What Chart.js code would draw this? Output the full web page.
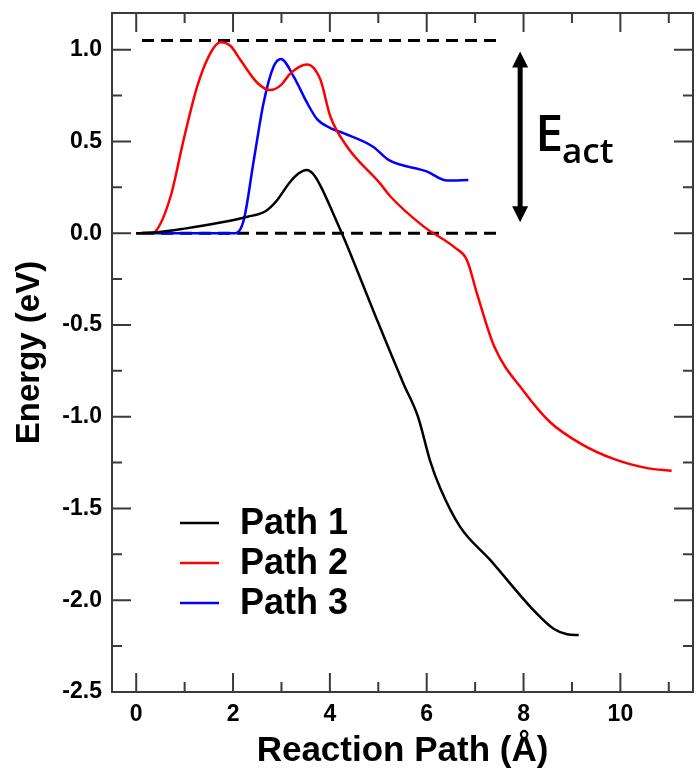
<!DOCTYPE html>
<html>
<head>
<meta charset="utf-8">
<script src="https://cdn.jsdelivr.net/npm/chart.js@4.4.1/dist/chart.umd.min.js"></script>
<style>
  body { margin: 0; background: #fff; }
  canvas { display: block; }
</style>
</head>
<body>
<canvas id="myChart" width="698" height="771"></canvas>
<script>
// values (x in Å, energy in eV)
const path1X = [0, 0.43, 1.0, 1.74, 2.3, 2.67, 2.91, 3.15, 3.35, 3.52, 3.68, 3.85, 4.08, 4.32, 4.97, 5.52, 5.82, 6.07, 6.28, 6.69, 7.31, 8.21, 8.62, 8.9, 9.14];
const path1Y = [0, 0.005, 0.025, 0.058, 0.09, 0.12, 0.18, 0.27, 0.325, 0.345, 0.315, 0.235, 0.1, -0.045, -0.47, -0.82, -1.0, -1.24, -1.39, -1.6, -1.78, -2.055, -2.155, -2.185, -2.19];

const path2X = [0, 0.3, 0.4, 0.71, 0.98, 1.26, 1.53, 1.74, 1.95, 2.15, 2.5, 2.77, 3.0, 3.18, 3.53, 3.8, 4.01, 4.36, 5.04, 5.25, 5.94, 6.59, 6.83, 7.04, 7.4, 8.0, 8.55, 9.17, 9.86, 10.55, 11.06];
const path2Y = [0, 0, 0.01, 0.2, 0.51, 0.8, 0.98, 1.04, 1.02, 0.945, 0.82, 0.78, 0.81, 0.87, 0.92, 0.84, 0.636, 0.47, 0.27, 0.2, 0.036, -0.08, -0.146, -0.33, -0.62, -0.86, -1.03, -1.145, -1.23, -1.28, -1.295];

const path3X = [0, 1.0, 2.05, 2.22, 2.43, 2.63, 2.84, 2.99, 3.25, 3.53, 3.74, 4.01, 4.28, 4.9, 5.21, 6.01, 6.42, 6.86];
const path3Y = [0, 0, 0, 0.07, 0.4, 0.71, 0.91, 0.95, 0.855, 0.71, 0.62, 0.573, 0.545, 0.47, 0.4, 0.336, 0.287, 0.29];

// dashed reference levels and the activation-energy arrow
const dashX = [0.12, 7.45];
const dashTop = [1.05, 1.05];
const dashBottom = [0, 0];
const arrowX = 7.93;
const arrowY = [0.06, 0.99];

const xTicks = [0, 2, 4, 6, 8, 10];
const xMinor = [1, 3, 5, 7, 9, 11];
const yTicks = [-2.5, -2.0, -1.5, -1.0, -0.5, 0.0, 0.5, 1.0];
const yMinor = [-2.25, -1.75, -1.25, -0.75, -0.25, 0.25, 0.75];

const seriesNames = ["Path 1", "Path 2", "Path 3"];
const seriesColors = ["#000000", "#ff0000", "#0000ff"];

function pts(xs, ys) {
  return xs.map((x, i) => ({ x: x, y: ys[i] }));
}

const FONT = "'Liberation Sans', Arial, Helvetica, sans-serif";

const decorations = {
  id: "decorations",
  afterDraw(chart) {
    const ctx = chart.ctx;
    const area = chart.chartArea;
    const xs = chart.scales.x;
    const ys = chart.scales.y;
    ctx.save();

    // frame
    ctx.strokeStyle = "#3a3a3a";
    ctx.lineWidth = 2;
    ctx.strokeRect(area.left, area.top, area.right - area.left, area.bottom - area.top);

    // inward ticks on all four sides
    function xTick(v, len) {
      const px = xs.getPixelForValue(v);
      ctx.beginPath();
      ctx.moveTo(px, area.bottom);
      ctx.lineTo(px, area.bottom - len);
      ctx.moveTo(px, area.top);
      ctx.lineTo(px, area.top + len);
      ctx.stroke();
    }
    function yTick(v, len) {
      const py = ys.getPixelForValue(v);
      ctx.beginPath();
      ctx.moveTo(area.left, py);
      ctx.lineTo(area.left + len, py);
      ctx.moveTo(area.right, py);
      ctx.lineTo(area.right - len, py);
      ctx.stroke();
    }
    xTicks.forEach((v) => xTick(v, 19));
    xMinor.forEach((v) => xTick(v, 10));
    yTicks.forEach((v) => yTick(v, 19));
    yMinor.forEach((v) => yTick(v, 10));

    // legend inside the plot
    chart.data.datasets.slice(0, 3).forEach((ds, i) => {
      const y = 523 + i * 40;
      ctx.strokeStyle = ds.borderColor;
      ctx.lineWidth = 2.5;
      ctx.beginPath();
      ctx.moveTo(180, y);
      ctx.lineTo(219, y);
      ctx.stroke();
      ctx.fillStyle = "#000";
      ctx.font = "bold 36px " + FONT;
      ctx.textBaseline = "middle";
      ctx.textAlign = "left";
      ctx.fillText(ds.label, 240, y + 1);
    });

    // double-headed arrow
    const ax = xs.getPixelForValue(arrowX);
    const ay0 = ys.getPixelForValue(arrowY[0]);
    const ay1 = ys.getPixelForValue(arrowY[1]);
    ctx.strokeStyle = "#000";
    ctx.fillStyle = "#000";
    ctx.lineWidth = 5;
    ctx.beginPath();
    ctx.moveTo(ax, ay1 + 12);
    ctx.lineTo(ax, ay0 - 12);
    ctx.stroke();
    ctx.beginPath();
    ctx.moveTo(ax, ay1);
    ctx.lineTo(ax - 8, ay1 + 16);
    ctx.lineTo(ax + 8, ay1 + 16);
    ctx.closePath();
    ctx.fill();
    ctx.beginPath();
    ctx.moveTo(ax, ay0);
    ctx.lineTo(ax - 8, ay0 - 16);
    ctx.lineTo(ax + 8, ay0 - 16);
    ctx.closePath();
    ctx.fill();

    // E_act label
    ctx.textBaseline = "alphabetic";
    ctx.font = "600 50px 'Open Sans', sans-serif";
    ctx.fillText("E", ax + 15, 151);
    const ew = ctx.measureText("E").width;
    ctx.font = "600 35px 'Open Sans', sans-serif";
    ctx.fillText("act", ax + 15 + ew - 1, 163);

    ctx.restore();
  },
};

function createChart() {
  const ctx = document.getElementById("myChart").getContext("2d");
  const lineSets = [path1X, path2X, path3X].map((xs, i) => ({
    label: seriesNames[i],
    data: pts(xs, [path1Y, path2Y, path3Y][i]),
    borderColor: seriesColors[i],
    borderWidth: 2.5,
    showLine: true,
    fill: false,
    cubicInterpolationMode: "monotone",
    pointRadius: 0,
  }));
  const dashSets = [dashTop, dashBottom].map((ys) => ({
    label: "",
    data: pts(dashX, ys),
    borderColor: "#000",
    borderWidth: 3,
    borderDash: [12, 7],
    showLine: true,
    fill: false,
    pointRadius: 0,
  }));

  new Chart(ctx, {
    type: "scatter",
    data: { datasets: lineSets.concat(dashSets) },
    options: {
      responsive: false,
      animation: false,
      layout: { padding: { top: 13, right: 5, left: 0, bottom: 0 } },
      plugins: {
        legend: { display: false },
        tooltip: { enabled: false },
      },
      scales: {
        x: {
          type: "linear",
          min: -0.5,
          max: 11.5,
          grid: { display: false, drawTicks: false },
          border: { display: false },
          afterBuildTicks: (s) => {
            s.ticks = xTicks.map((v) => ({ value: v }));
          },
          afterFit: (s) => {
            s.height = 79;
            s.paddingLeft = 0;
            s.paddingRight = 0;
          },
          ticks: {
            color: "#000",
            font: { family: FONT, weight: "bold", size: 23 },
            padding: 9,
            maxRotation: 0,
            autoSkip: false,
            callback: (v) => String(v),
          },
          title: {
            display: true,
            text: "Reaction Path (Å)",
            color: "#000",
            font: { family: FONT, weight: "bold", size: 35, lineHeight: 1 },
            padding: { top: 0, bottom: 2 },
          },
        },
        y: {
          type: "linear",
          min: -2.5,
          max: 1.2,
          grid: { display: false, drawTicks: false },
          border: { display: false },
          afterBuildTicks: (s) => {
            s.ticks = yTicks.map((v) => ({ value: v }));
          },
          afterFit: (s) => {
            s.width = 112;
            s.paddingTop = 0;
            s.paddingBottom = 0;
          },
          ticks: {
            color: "#000",
            font: { family: FONT, weight: "bold", size: 23 },
            padding: 10,
            autoSkip: false,
            callback: (v) => Number(v).toFixed(1),
          },
          title: {
            display: true,
            text: "Energy (eV)",
            color: "#000",
            font: { family: FONT, weight: "bold", size: 33, lineHeight: 1 },
            padding: { top: 13, bottom: 0 },
          },
        },
      },
    },
    plugins: [decorations],
  });
}

createChart();
</script>
</body>
</html>
